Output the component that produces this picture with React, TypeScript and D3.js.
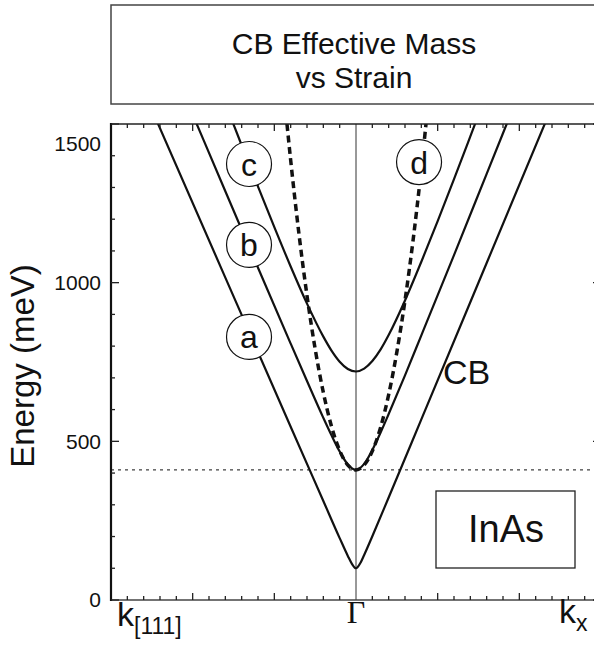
import React from "react";
import * as d3 from "d3";

// Band dispersion of the InAs conduction band under strain.
// k is in units of one minor tick; negative k runs along [111], positive along x.
const kA = [-13, -8, -4, -2, -1, -0.5, -0.25, 0, 0.25, 0.5, 1, 2, 4, 8, 13];
const energyA = [1604, 1016, 546, 312, 195, 139, 114, 100, 115, 142, 201, 323, 569, 1062, 1678];

const kB = [-12, -10, -8, -6, -4, -3, -2, -1.5, -1, -0.5, 0, 0.5, 1, 1.5, 2, 3, 4, 6, 8, 10, 12];
const energyB = [1772, 1530, 1288, 1047, 808, 690, 574, 519, 468, 427, 410, 429, 473, 527, 586, 708, 834, 1087, 1343, 1599, 1855];

const kC = [-9, -8, -7, -6, -5, -4, -3, -2, -1.5, -1, -0.5, 0, 0.5, 1, 1.5, 2, 3, 4, 5, 6, 7, 8, 9];
const energyC = [1698, 1565, 1433, 1303, 1175, 1051, 934, 830, 786, 751, 728, 720, 729, 753, 789, 835, 944, 1066, 1194, 1326, 1461, 1597, 1734];

// Parabolic (constant effective mass) reference
const kD = [-4.5, -4, -3.5, -3, -2.5, -2, -1.5, -1, -0.5, 0, 0.5, 1, 1.5, 2, 2.5, 3, 3.5, 4, 4.5];
const energyD = [1645, 1386, 1157, 959, 791, 654, 547, 471, 425, 410, 425, 469, 543, 647, 781, 944, 1136, 1359, 1611];

const bandEdge = 410;

// Circled curve labels: [letter, k, energy]
const curveLabels: [string, number, number][] = [
  ["c", -6.55, 1374],
  ["b", -6.55, 1119],
  ["a", -6.55, 829],
  ["d", 3.86, 1380],
];

const yTickLabels = [0, 500, 1000, 1500];

const W = 594;
const H = 649;
const left = 111;
const right = 601;
const top = 124;
const bottom = 600;

const sans = "'Liberation Sans', Arial, Helvetica, sans-serif";
const serif = "'Liberation Serif', 'Times New Roman', serif";

export default function App() {
  const x = d3.scaleLinear().domain([-15, 15]).range([left, right]);
  const y = d3.scaleLinear().domain([0, 1500]).range([bottom, top]);

  const line = d3
    .line<[number, number]>()
    .x((d) => x(d[0]))
    .y((d) => y(d[1]))
    .curve(d3.curveMonotoneX);

  const series = [
    { k: kA, e: energyA },
    { k: kB, e: energyB },
    { k: kC, e: energyC },
  ];

  const yTicks = d3.range(0, 1501, 100);
  const xTicks = d3.range(-14, 15, 1).filter((v) => v !== 0);

  return (
    <svg
      width={W}
      height={H}
      style={{ position: "absolute", left: 0, top: 0, background: "#fff" }}
    >
      <defs>
        <clipPath id="plot-clip">
          <rect x={left} y={top} width={right - left} height={bottom - top} />
        </clipPath>
      </defs>

      {/* title box */}
      <rect x={left} y={5} width={right - left} height={99} fill="none" stroke="#444" strokeWidth={1.5} />
      <text x={354} y={54} textAnchor="middle" fontFamily={sans} fontSize={30} fill="#111">
        CB Effective Mass
      </text>
      <text x={354} y={88} textAnchor="middle" fontFamily={sans} fontSize={30} fill="#111">
        vs Strain
      </text>

      <g clipPath="url(#plot-clip)">
        {/* band-edge reference */}
        <line
          x1={left}
          x2={right}
          y1={y(bandEdge)}
          y2={y(bandEdge)}
          stroke="#111"
          strokeWidth={1}
          strokeDasharray="3,4"
        />
        {/* Gamma point */}
        <line x1={x(0)} x2={x(0)} y1={top} y2={bottom} stroke="#333" strokeWidth={1} />

        {series.map((s, i) => (
          <path
            key={i}
            d={line(s.k.map((k, j) => [k, s.e[j]] as [number, number])) || ""}
            fill="none"
            stroke="#111"
            strokeWidth={2.2}
          />
        ))}
        <path
          d={line(kD.map((k, j) => [k, energyD[j]] as [number, number])) || ""}
          fill="none"
          stroke="#111"
          strokeWidth={3.5}
          strokeDasharray="7,4.5"
        />
      </g>

      {curveLabels.map(([t, k, e]) => (
        <g key={t}>
          <circle cx={x(k)} cy={y(e)} r={22.5} fill="#fff" stroke="#111" strokeWidth={1.2} />
          <text
            x={x(k)}
            y={y(e)}
            dy="0.36em"
            textAnchor="middle"
            fontFamily={sans}
            fontSize={32}
            fill="#111"
          >
            {t}
          </text>
        </g>
      ))}

      <text x={443} y={384} fontFamily={sans} fontSize={34} fill="#111">
        CB
      </text>

      <rect x={436} y={491} width={139} height={77} fill="none" stroke="#222" strokeWidth={1.3} />
      <text x={506} y={542} textAnchor="middle" fontFamily={sans} fontSize={38} fill="#111">
        InAs
      </text>

      {/* frame */}
      <line x1={left} x2={right} y1={top} y2={top} stroke="#222" strokeWidth={1.5} />
      <line x1={left} x2={right} y1={bottom} y2={bottom} stroke="#444" strokeWidth={1.5} />
      <line x1={right} x2={right} y1={top} y2={bottom} stroke="#222" strokeWidth={1.5} />
      <line x1={left} x2={left} y1={top - 1} y2={bottom + 1} stroke="#111" strokeWidth={2.2} />

      {yTicks.map((v) => {
        const len = v % 500 === 0 ? 8 : 4;
        return (
          <g key={"y" + v}>
            <line x1={left} x2={left + len} y1={y(v)} y2={y(v)} stroke="#222" strokeWidth={1.3} />
            <line x1={right} x2={right - len} y1={y(v)} y2={y(v)} stroke="#222" strokeWidth={1.3} />
          </g>
        );
      })}
      {xTicks.map((v) => {
        const len = v % 5 === 0 ? 7 : 4;
        return (
          <g key={"x" + v}>
            <line x1={x(v)} x2={x(v)} y1={bottom} y2={bottom - len} stroke="#222" strokeWidth={1.3} />
            <line x1={x(v)} x2={x(v)} y1={top} y2={top + len} stroke="#222" strokeWidth={1.3} />
          </g>
        );
      })}

      {yTickLabels.map((v) => (
        <text
          key={"yl" + v}
          x={101}
          y={y(v) + (v === 1500 ? 20 : 0)}
          dy="0.35em"
          textAnchor="end"
          fontFamily={sans}
          fontSize={21}
          fill="#111"
        >
          {v}
        </text>
      ))}

      <text
        transform={`translate(34, ${366}) rotate(-90)`}
        textAnchor="middle"
        fontFamily={sans}
        fontSize={33}
        fill="#111"
      >
        Energy (meV)
      </text>

      <text x={117} y={626} fontFamily={sans} fontSize={34} fill="#111">
        k
        <tspan fontSize={23} dy={8}>
          [111]
        </tspan>
      </text>
      <text x={x(0)} y={623} textAnchor="middle" fontFamily={serif} fontSize={32} fill="#111">
        Γ
      </text>
      <text x={559} y={623} fontFamily={sans} fontSize={34} fill="#111">
        k
        <tspan fontSize={23} dy={8}>
          x
        </tspan>
      </text>
    </svg>
  );
}
